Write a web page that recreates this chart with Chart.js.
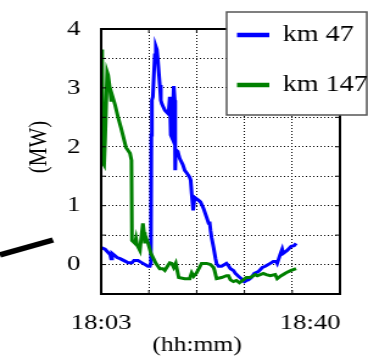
<!DOCTYPE html>
<html>
<head>
<meta charset="utf-8">
<script src="https://cdn.jsdelivr.net/npm/chart.js@4.4.0/dist/chart.umd.min.js"></script>
<style>
  html, body { margin: 0; padding: 0; background: #fff; overflow: hidden; }
  /* the source figure is stretched sideways, so draw narrower and widen it */
  #wrap { width: 302px; height: 357px; transform: scaleX(1.2185); transform-origin: 0 0; }
</style>
</head>
<body>
<div id="wrap"><canvas id="chart" width="302" height="357"></canvas></div>
<script>
const seriesNames = ["km 47", "km 147"];
const seriesColors = ["#0000ff", "#008000"];

// minutes after 18:03, power in MW
const blueTime = [
  0, 0.70, 1.59, 1.76, 1.94, 2.47, 2.82, 3.35, 4.40, 4.76,
  5.46, 5.81, 6.52, 6.87, 7.40, 8.28, 8.63, 8.81, 8.90, 8.99,
  9.16, 9.51, 9.69, 9.87, 10.04, 10.39, 10.57, 10.75, 11.28, 11.80,
  11.98, 12.16, 12.33, 12.51, 12.69, 12.86, 13.04, 13.12, 13.21, 13.57,
  13.92, 14.45, 14.80, 15.20, 15.68, 15.86, 16.03, 16.30, 16.56, 17.27,
  17.62, 18.15, 18.68, 19.03, 19.20, 19.38, 19.56, 19.91, 20.26, 20.44,
  20.79, 21.32, 21.85, 22.20, 22.55, 22.90, 23.43, 23.78, 24.31, 24.84,
  25.37, 25.72, 26.07, 26.60, 27.13, 27.84, 28.54, 29.07, 29.95, 30.48,
  31.01, 31.18, 31.71, 32.06, 32.24, 32.95, 33.65, 34.18, 34.53
];
const blueMW = [
  0.29, 0.26, 0.17, 0.10, 0.19, 0.15, 0.12, 0.10, 0.05, 0.03,
  0.03, 0.07, 0.07, 0.05, 0.02, -0.03, -0.03, 0.03, 2.20, 2.79,
  2.85, 3.56, 3.70, 3.65, 3.48, 3.05, 2.79, 2.73, 2.62, 2.57,
  2.62, 2.85, 2.20, 2.16, 2.62, 3.03, 2.79, 1.60, 1.95, 1.92,
  1.80, 1.70, 1.60, 1.55, 1.48, 1.43, 1.21, 0.92, 1.14, 1.09,
  1.06, 0.95, 0.80, 0.70, 0.73, 0.58, 0.46, 0.29, 0.10, 0.02,
  -0.03, -0.03, 0.00, 0.02, -0.02, -0.07, -0.10, -0.15, -0.20, -0.24,
  -0.29, -0.27, -0.26, -0.22, -0.15, -0.12, -0.05, -0.03, 0.02, 0.05,
  0.05, 0.02, 0.17, 0.26, 0.19, 0.24, 0.31, 0.32, 0.36
];
const greenTime = [
  0, 0.18, 0.35, 0.53, 0.70, 1.06, 1.23, 1.59, 1.76, 1.94,
  2.47, 3.00, 3.52, 4.40, 5.11, 5.37, 5.46, 5.99, 6.17, 6.34,
  6.87, 7.05, 7.40, 7.58, 7.75, 7.93, 8.28, 8.81, 9.69, 10.39,
  10.92, 11.28, 11.80, 12.16, 12.51, 12.86, 13.21, 13.74, 14.80, 15.68,
  16.03, 16.38, 16.91, 17.79, 18.68, 19.38, 19.91, 20.08, 20.44, 21.32,
  22.20, 22.55, 22.90, 23.43, 23.96, 24.49, 25.19, 25.72, 26.43, 27.31,
  27.66, 28.72, 29.25, 29.95, 30.83, 31.18, 31.89, 32.77, 33.65, 34.53
];
const greenMW = [
  3.65, 3.48, 1.72, 1.69, 2.11, 3.27, 3.22, 2.96, 2.79, 2.88,
  2.71, 2.50, 2.32, 1.99, 1.89, 1.77, 0.41, 0.36, 0.44, 0.34,
  0.24, 0.41, 0.70, 0.55, 0.36, 0.46, 0.37, 0.19, 0.02, -0.07,
  -0.07, -0.10, -0.02, 0.03, 0.02, -0.05, 0.02, -0.22, -0.24, -0.24,
  -0.14, -0.20, -0.14, 0.02, 0.02, 0.00, -0.05, -0.10, -0.24, -0.22,
  -0.19, -0.19, -0.26, -0.29, -0.27, -0.31, -0.26, -0.22, -0.22, -0.17,
  -0.19, -0.15, -0.17, -0.19, -0.17, -0.24, -0.19, -0.14, -0.10, -0.07
];

const xMax = 42.3;
const xDivisions = 5;
const xTickValues = [0, 37];
const xTickLabels = ["18:03", "18:40"];
const yMin = -0.5, yMax = 4, yStep = 0.5;
const xTitle = "(hh:mm)";
const yTitle = "(MW)";

const serif = "'Liberation Serif', 'Times New Roman', serif";
const xStep = xMax / xDivisions;
const isDivision = (v) => v != null && Math.abs(v / xStep - Math.round(v / xStep)) < 1e-6;

const toPoints = (ts, vs) => ts.map((t, i) => ({ x: t, y: vs[i] }));

const frame = {
  id: "frame",
  beforeDraw(chart) {
    const ctx = chart.ctx;
    ctx.save();
    ctx.fillStyle = "#fff";
    ctx.fillRect(0, 0, chart.width, chart.height);
    // stray stroke left over from the cropped figure
    ctx.strokeStyle = "#000";
    ctx.lineWidth = 5.5;
    ctx.beginPath();
    ctx.moveTo(0, 255);
    ctx.lineTo(43.5, 240);
    ctx.stroke();
    ctx.restore();
  },
  afterDatasetsDraw(chart) {
    const { ctx, chartArea: { left, right, top, bottom }, scales: { x, y } } = chart;
    ctx.save();
    ctx.strokeStyle = "#000";
    ctx.lineWidth = 1;
    ctx.beginPath();
    for (let i = 1; i < xDivisions; i++) {
      const px = x.getPixelForValue(i * xStep);
      ctx.moveTo(px, bottom); ctx.lineTo(px, bottom - 4);
      ctx.moveTo(px, top); ctx.lineTo(px, top + 4);
    }
    for (let v = yMin + yStep; v < yMax; v += yStep) {
      const py = y.getPixelForValue(v);
      ctx.moveTo(left, py); ctx.lineTo(left + 4, py);
      ctx.moveTo(right, py); ctx.lineTo(right - 4, py);
    }
    ctx.stroke();
    ctx.lineWidth = 2;
    ctx.strokeRect(left, top, right - left, bottom - top);
    ctx.restore();
  },
  afterDraw(chart) {
    const ctx = chart.ctx;
    ctx.save();
    // legend box
    ctx.fillStyle = "#fff";
    ctx.fillRect(186, 12, 115, 103);
    ctx.strokeStyle = "#555";
    ctx.lineWidth = 1.5;
    ctx.strokeRect(186, 12, 115, 103);
    ctx.font = "23px " + serif;
    ctx.textAlign = "left";
    ctx.textBaseline = "middle";
    chart.data.datasets.forEach((ds, i) => {
      const cy = 35 + i * 50;
      ctx.strokeStyle = ds.borderColor;
      ctx.lineWidth = 4.5;
      ctx.beginPath();
      ctx.moveTo(194.5, cy);
      ctx.lineTo(221, cy);
      ctx.stroke();
      ctx.fillStyle = "#000";
      ctx.fillText(ds.label, 232, cy);
    });
    // axis titles
    ctx.font = "21px " + serif;
    ctx.textAlign = "center";
    ctx.fillText(xTitle, 161.7, 345);
    ctx.translate(32, 147);
    ctx.rotate(-Math.PI / 2);
    ctx.fillText(yTitle, 0, 0);
    ctx.restore();
  }
};

new Chart(document.getElementById("chart"), {
  type: "line",
  data: {
    datasets: [
      {
        label: seriesNames[0],
        data: toPoints(blueTime, blueMW),
        borderColor: seriesColors[0],
        borderWidth: 3,
        pointRadius: 0,
        tension: 0,
        order: 1,
      },
      {
        label: seriesNames[1],
        data: toPoints(greenTime, greenMW),
        borderColor: seriesColors[1],
        borderWidth: 3,
        pointRadius: 0,
        tension: 0,
        order: 0,
      },
    ],
  },
  options: {
    responsive: false,
    animation: false,
    devicePixelRatio: 1,
    layout: { padding: { top: 29, right: 23, left: 0, bottom: 0 } },
    plugins: {
      legend: { display: false },
      tooltip: { enabled: false },
    },
    scales: {
      x: {
        type: "linear",
        min: 0,
        max: xMax,
        afterFit(s) { s.height = 63; },
        afterBuildTicks(s) {
          const vals = [];
          for (let i = 0; i <= xDivisions; i++) vals.push(i * xStep);
          xTickValues.forEach((v) => { if (!vals.some((w) => Math.abs(w - v) < 1e-6)) vals.push(v); });
          vals.sort((a, b) => a - b);
          s.ticks = vals.map((v) => ({ value: v }));
        },
        ticks: {
          autoSkip: false,
          maxRotation: 0,
          padding: 18,
          color: "#000",
          font: { family: serif, size: 22, lineHeight: 1 },
          callback(v) {
            const k = xTickValues.indexOf(v);
            return k >= 0 ? xTickLabels[k] : "";
          },
        },
        grid: {
          color: (c) => (c.tick && isDivision(c.tick.value) ? "#000" : "rgba(0,0,0,0)"),
          lineWidth: 1,
          drawTicks: false,
        },
        border: { display: false, dash: [1, 2] },
      },
      y: {
        min: yMin,
        max: yMax,
        afterFit(s) { s.width = 83; },
        ticks: {
          stepSize: yStep,
          autoSkip: false,
          padding: 17,
          color: "#000",
          font: { family: serif, size: 22, lineHeight: 1 },
          callback: (v) => (Number.isInteger(v) ? String(v) : ""),
        },
        grid: { color: "#000", lineWidth: 1, drawTicks: false },
        border: { display: false, dash: [1, 2] },
      },
    },
  },
  plugins: [frame],
});
</script>
</body>
</html>
